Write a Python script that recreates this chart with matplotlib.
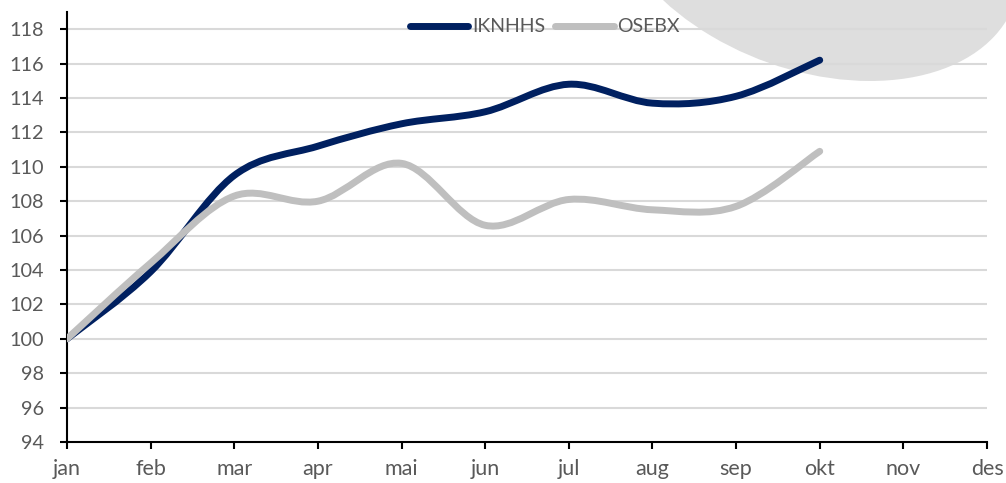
import matplotlib.pyplot as plt
from matplotlib.path import Path
from matplotlib.patches import PathPatch, Circle
from matplotlib.lines import Line2D
from matplotlib.transforms import Affine2D

months = ['jan', 'feb', 'mar', 'apr', 'mai', 'jun', 'jul', 'aug', 'sep', 'okt', 'nov', 'des']
iknhhs = [100, 103.9, 109.5, 111.2, 112.5, 113.2, 114.8, 113.7, 114.1, 116.2]
osebx = [100, 104.4, 108.3, 108.0, 110.2, 106.6, 108.1, 107.5, 107.7, 110.9]
yticks = list(range(94, 119, 2))

blue = '#002060'
grey = '#bfbfbf'
textcol = '#595959'

plt.rcParams['font.family'] = ['Lato', 'DejaVu Sans']


def smooth_path(xs, ys):
    # excel-style smoothed line as bezier segments
    pts = list(zip(xs, ys))
    n = len(pts)
    verts = [pts[0]]
    codes = [Path.MOVETO]
    for i in range(n - 1):
        p0 = pts[max(i - 1, 0)]
        p1 = pts[i]
        p2 = pts[i + 1]
        p3 = pts[min(i + 2, n - 1)]
        c1 = (p1[0] + (p2[0] - p0[0]) / 6, p1[1] + (p2[1] - p0[1]) / 6)
        c2 = (p2[0] - (p3[0] - p1[0]) / 6, p2[1] - (p3[1] - p1[1]) / 6)
        verts += [c1, c2, p2]
        codes += [Path.CURVE4] * 3
    return Path(verts, codes)


fig = plt.figure(figsize=(10.06, 4.83), dpi=100)

# grey tilted ellipse decoration in the top right corner (inches)
shape = Affine2D.from_values(2.0, 0, 0.58, -1.53, 8.12, 5.55) + fig.dpi_scale_trans
blob = Circle((0, 0), 1, transform=shape, facecolor='#dedede', edgecolor='none', zorder=-1)
fig.patches.append(blob)

ax = fig.add_axes([67 / 1006, 41 / 483, 920 / 1006, 430 / 483])
ax.set_facecolor('none')

x = list(range(len(iknhhs)))
ax.add_patch(PathPatch(smooth_path(x, iknhhs), facecolor='none', edgecolor=blue,
                       lw=5, capstyle='round', zorder=3))
ax.add_patch(PathPatch(smooth_path(x, osebx), facecolor='none', edgecolor=grey,
                       lw=5, capstyle='round', zorder=4))

ax.set_xlim(0, len(months) - 1)
ax.set_ylim(94, 119)
ax.set_xticks(range(len(months)))
ax.set_xticklabels(months)
ax.set_yticks(yticks)
for t in yticks[1:]:
    ax.axhline(t, color='#d9d9d9', lw=1.5, zorder=1)

for s in ['top', 'right']:
    ax.spines[s].set_visible(False)
for s in ['left', 'bottom']:
    ax.spines[s].set_linewidth(1.5)
    ax.spines[s].set_color('black')
ax.tick_params(axis='both', colors='black', labelcolor=textcol,
               length=5, width=1.5, direction='out')
ax.tick_params(axis='x', pad=7, labelsize=15.5)
ax.tick_params(axis='y', pad=11.5, labelsize=14.3)

handles = [Line2D([], [], color=blue, lw=5, solid_capstyle='round'),
           Line2D([], [], color=grey, lw=5, solid_capstyle='round')]
fig.legend(handles, ['IKNHHS', 'OSEBX'], loc='center', bbox_to_anchor=(545 / 1006, 1 - 27 / 483),
           ncol=2, frameon=False, fontsize=14, labelcolor=textcol, handlelength=3.0,
           handletextpad=0.2, columnspacing=0.5)

fig.savefig('out.png', dpi=100)
